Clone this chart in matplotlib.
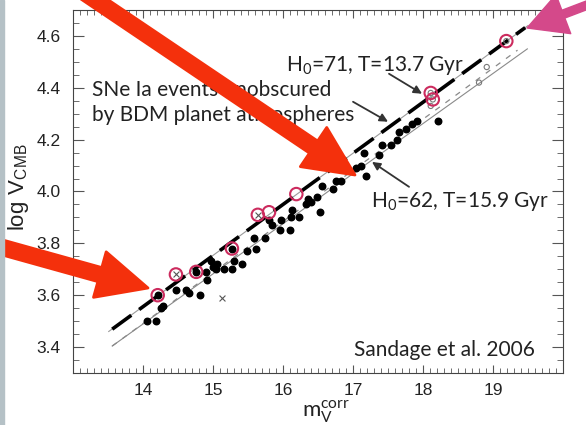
import numpy as np
import matplotlib.pyplot as plt
from matplotlib.patches import FancyArrowPatch, Rectangle
from matplotlib.transforms import IdentityTransform
from matplotlib.ticker import MultipleLocator

plt.rcParams['mathtext.fontset'] = 'custom'
plt.rcParams['mathtext.rm'] = 'Lato'
plt.rcParams['mathtext.sf'] = 'Liberation Sans'
plt.rcParams['lines.scale_dashes'] = False

# SNe Ia, black dots
dot_m = [14.06, 14.18, 14.25, 14.29, 14.47, 14.61, 14.65, 14.81, 14.90, 14.92,
         14.97, 15.00, 15.04, 15.06, 15.16, 15.27, 15.30, 15.41, 15.49, 15.61,
         15.59, 15.74, 15.80, 15.84, 15.96, 15.97, 16.10, 16.11, 16.13, 16.23,
         16.33, 16.36, 16.40, 16.49, 16.53, 16.56, 16.71, 16.76, 16.83, 17.04,
         17.11, 17.19, 17.16, 17.37, 17.41, 17.54, 17.63, 17.66, 17.76, 17.84,
         17.91, 18.22]
dot_v = [3.50, 3.50, 3.55, 3.56, 3.62, 3.62, 3.61, 3.60, 3.69, 3.66,
         3.73, 3.71, 3.70, 3.72, 3.70, 3.70, 3.73, 3.72, 3.77, 3.78,
         3.82, 3.82, 3.89, 3.87, 3.85, 3.89, 3.85, 3.90, 3.93, 3.90,
         3.95, 3.97, 3.96, 3.98, 3.92, 4.02, 4.01, 4.04, 4.04, 4.09,
         4.10, 4.06, 4.15, 4.14, 4.18, 4.18, 4.20, 4.23, 4.24, 4.26,
         4.27, 4.27]

# unobscured events (red rings)
ring_m = [14.21, 14.47, 14.76, 15.27, 15.64, 15.80, 16.19, 18.11, 18.14, 19.19]
ring_v = [3.60, 3.68, 3.69, 3.78, 3.91, 3.92, 3.99, 4.38, 4.355, 4.58]
ring_dot_m = [14.21, 14.76, 15.27]
ring_dot_v = [3.60, 3.69, 3.78]

cross_m = [14.47, 15.64, 15.13]
cross_v = [3.68, 3.91, 3.59]

open_m = [18.11, 18.14, 19.19, 18.91, 18.80, 18.11]
open_v = [4.38, 4.355, 4.58, 4.48, 4.42, 4.33]

# model lines (end points)
h71_m = [13.51, 19.50]
h71_v = [3.46, 4.64]
h71_dash_m = [13.56, 19.46]
h71_dash_v = [3.469, 4.632]
h62_m = [13.56, 19.49]
h62_v = [3.404, 4.55]
h62_dash_m = [13.56, 19.35]
h62_dash_v = [3.404, 4.545]

fig = plt.figure(figsize=(5.86, 4.25), dpi=100)
ax = fig.add_axes([0.1246, 0.1224, 0.8362, 0.8541])

ax.plot(h71_m, h71_v, color='#9a9a9a', lw=0.8)
ax.plot(h71_dash_m, h71_dash_v, color='black', lw=2.6, dashes=(17, 7))
ax.plot(h62_m, h62_v, color='#8a8a8a', lw=0.8)
ax.plot(h62_dash_m, h62_dash_v, color='#8a8a8a', lw=0.9, dashes=(4, 5))

ax.scatter(dot_m, dot_v, s=22, color='black', zorder=3)
ax.scatter(ring_dot_m, ring_dot_v, s=22, color='black', zorder=3)
ax.scatter(cross_m, cross_v, s=18, marker='x', color='#555555', lw=0.8, zorder=3)
ax.scatter(open_m, open_v, s=14, facecolor='none', edgecolor='#777777', lw=0.8, zorder=3)
ax.scatter(ring_m, ring_v, s=80, facecolor='none', edgecolor='#cc2b5e', lw=1.5, zorder=4)

ax.set_xlim(13, 20)
ax.set_ylim(3.3, 4.7)
ax.xaxis.set_minor_locator(MultipleLocator(0.1))
ax.yaxis.set_minor_locator(MultipleLocator(0.05))
ax.set_xticks([14, 15, 16, 17, 18, 19])
ax.set_yticks([3.4, 3.6, 3.8, 4.0, 4.2, 4.4, 4.6])
ax.tick_params(which='both', direction='in', top=True, right=True, color='#555555')
ax.tick_params(axis='y', which='major', length=8, pad=9)
ax.tick_params(axis='y', which='minor', length=4.5)
ax.tick_params(axis='x', which='major', length=6, pad=7)
ax.tick_params(axis='x', which='minor', length=3.5)
for lab in ax.get_xticklabels() + ax.get_yticklabels():
    lab.set_family('Liberation Sans')
    lab.set_fontsize(12.5)
    lab.set_color('#222222')
for sp in ax.spines.values():
    sp.set_color('#444444')

fig.text(0.031, 0.56, r'$\mathsf{log\ V_{CMB}}$', rotation=90, ha='center', va='center',
         fontsize=16, color='#222222')
fig.text(0.556, 0.02, r'm$_{\rm V}^{\rm corr}$', ha='center', va='baseline', fontsize=16,
         family='Lato', color='#222222')

tf = dict(family='Lato', fontsize=15, color='#222222')
ax.text(16.04, 4.466, r'H$_0$=71, T=13.7 Gyr', **tf)
ax.text(13.27, 4.369, 'SNe Ia events unobscured', **tf)
ax.text(13.27, 4.273, 'by BDM planet atmospheres', **tf)
ax.text(17.26, 3.94, r'H$_0$=62, T=15.9 Gyr', **tf)
ax.text(17.01, 3.365, 'Sandage et al. 2006', **tf)

ap = dict(arrowstyle='-|>', color='#333333', lw=1.3, mutation_scale=12, shrinkA=0, shrinkB=0)
ax.annotate('', xy=(17.986, 4.377), xytext=(17.514, 4.454), arrowprops=ap)
ax.annotate('', xy=(17.5, 4.269), xytext=(17.0, 4.346), arrowprops=ap)
ax.annotate('', xy=(17.271, 4.114), xytext=(17.8, 4.018), arrowprops=ap)

# overlay arrows (figure pixels, origin bottom left)
big = 'Simple, head_length=36, head_width=34, tail_width=10.5'
for tail, tip in [((85, 432), (355, 250)), ((-10, 181), (148, 137))]:
    fig.add_artist(FancyArrowPatch(tail, tip, arrowstyle=big, mutation_scale=1,
                                   transform=IdentityTransform(), color='#f4300c',
                                   lw=2, joinstyle='round', shrinkA=0, shrinkB=0))
fig.add_artist(FancyArrowPatch((640, 440), (527, 397),
                               arrowstyle='Simple, head_length=28, head_width=30, tail_width=6',
                               mutation_scale=1, transform=IdentityTransform(),
                               color='#d4498a', lw=1, joinstyle='round', shrinkA=0, shrinkB=0))

fig.add_artist(Rectangle((0, 0), 4 / 586, 1, transform=fig.transFigure, color='#b5c1c6'))

fig.savefig('out.png', dpi=100)
